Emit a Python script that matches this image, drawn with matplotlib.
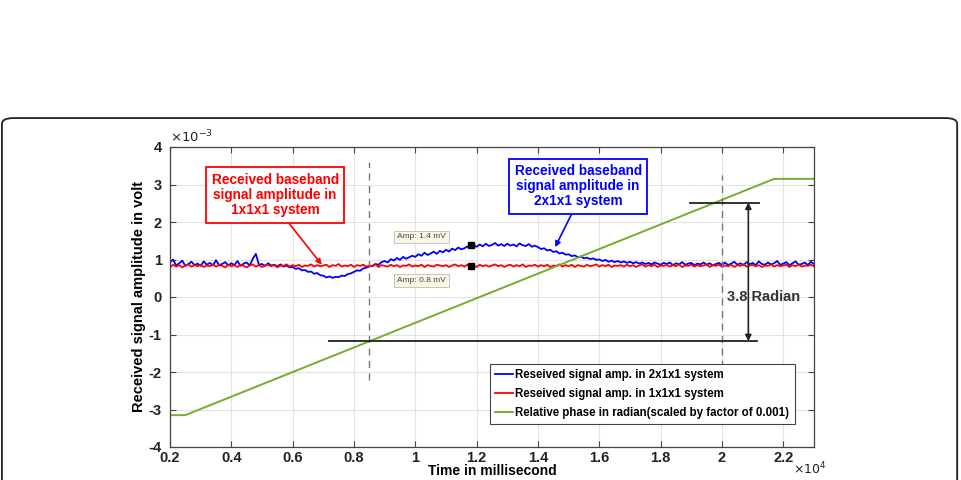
import matplotlib.pyplot as plt
import numpy as np
from matplotlib.patches import FancyBboxPatch

plt.rcParams['font.family'] = ['Liberation Sans', 'DejaVu Sans']
plt.rcParams['axes.unicode_minus'] = False

# sample times (x 10^4 ms), one every 0.01
t = np.round(np.arange(0.20, 2.3001, 0.01), 2)

# amplitude in 2x1x1 system (x 10^-3 V)
amp_2x1x1 = [0.92, 1.00, 0.84, 0.90, 0.97, 0.83, 0.88, 0.94, 0.85, 0.89,
             0.83, 0.95, 0.86, 0.91, 0.84, 0.98, 0.85, 0.88, 0.93, 0.84,
             0.90, 0.85, 0.96, 0.83, 0.89, 0.92, 0.84, 1.02, 1.15, 0.86,
             0.88, 0.83, 0.90, 0.84, 0.86, 0.82, 0.87, 0.81, 0.84, 0.79,
             0.80, 0.75, 0.77, 0.71, 0.72, 0.67, 0.68, 0.62, 0.64, 0.58,
             0.57, 0.52, 0.55, 0.51, 0.54, 0.53, 0.57, 0.56, 0.61, 0.63,
             0.67, 0.71, 0.70, 0.76, 0.78, 0.82, 0.83, 0.88, 0.86, 0.93,
             0.96, 0.92, 1.01, 0.97, 1.04, 0.99, 1.07, 1.02, 1.06, 1.10,
             1.07, 1.14, 1.10, 1.18, 1.12, 1.16, 1.21, 1.15, 1.23, 1.19,
             1.26, 1.21, 1.29, 1.25, 1.32, 1.27, 1.30, 1.35, 1.31, 1.38,
             1.34, 1.40, 1.35, 1.42, 1.36, 1.39, 1.44, 1.37, 1.41, 1.36,
             1.42, 1.37, 1.40, 1.35, 1.43, 1.38, 1.36, 1.41, 1.34, 1.37,
             1.33, 1.28, 1.30, 1.24, 1.26, 1.20, 1.22, 1.16, 1.18, 1.13,
             1.14, 1.09, 1.11, 1.06, 1.08, 1.03, 1.05, 1.01, 1.03, 0.99,
             1.00, 0.96, 0.99, 0.94, 0.97, 0.93, 0.96, 0.92, 0.95, 0.91,
             0.94, 0.90, 0.93, 0.89, 0.92, 0.88, 0.91, 0.87, 0.92, 0.89,
             0.86, 0.91, 0.88, 0.92, 0.85, 0.90, 0.87, 0.93, 0.86, 0.89,
             0.91, 0.85, 0.89, 0.87, 0.92, 0.86, 0.90, 0.84, 0.88, 0.91,
             0.86, 0.92, 0.85, 0.89, 0.94, 0.86, 0.90, 0.85, 0.93, 0.87,
             0.91, 0.85, 0.95, 0.88, 0.86, 0.92, 0.87, 0.90, 0.96, 0.86,
             0.89, 0.93, 0.85, 0.90, 0.95, 0.86, 0.88, 0.92, 0.85, 0.94,
             0.88]

# amplitude in 1x1x1 system (x 10^-3 V)
amp_1x1x1 = [0.80, 0.86, 0.81, 0.85, 0.79, 0.84, 0.87, 0.81, 0.85, 0.82,
             0.86, 0.80, 0.84, 0.82, 0.87, 0.81, 0.85, 0.83, 0.79, 0.86,
             0.82, 0.85, 0.80, 0.86, 0.83, 0.79, 0.84, 0.87, 0.81, 0.85,
             0.80, 0.84, 0.86, 0.82, 0.85, 0.79, 0.84, 0.83, 0.87, 0.81,
             0.85, 0.82, 0.86, 0.80, 0.84, 0.83, 0.87, 0.81, 0.85, 0.82,
             0.84, 0.86, 0.80, 0.85, 0.83, 0.88, 0.81, 0.84, 0.82, 0.86,
             0.80, 0.85, 0.83, 0.86, 0.81, 0.84, 0.82, 0.87, 0.80, 0.85,
             0.83, 0.81, 0.86, 0.82, 0.85, 0.80, 0.84, 0.83, 0.87, 0.81,
             0.84, 0.82, 0.86, 0.80, 0.85, 0.83, 0.81, 0.86, 0.84, 0.82,
             0.85, 0.80, 0.84, 0.87, 0.82, 0.85, 0.81, 0.86, 0.83, 0.84,
             0.80, 0.86, 0.82, 0.85, 0.81, 0.84, 0.87, 0.82, 0.85, 0.80,
             0.84, 0.86, 0.81, 0.85, 0.82, 0.87, 0.80, 0.84, 0.83, 0.86,
             0.81, 0.85, 0.82, 0.86, 0.80, 0.84, 0.83, 0.87, 0.81, 0.85,
             0.82, 0.86, 0.80, 0.85, 0.83, 0.81, 0.86, 0.82, 0.84, 0.87,
             0.81, 0.85, 0.82, 0.86, 0.80, 0.84, 0.83, 0.85, 0.81, 0.86,
             0.82, 0.85, 0.80, 0.84, 0.87, 0.81, 0.85, 0.82, 0.86, 0.80,
             0.84, 0.83, 0.86, 0.81, 0.85, 0.82, 0.87, 0.80, 0.84, 0.83,
             0.86, 0.81, 0.85, 0.82, 0.84, 0.87, 0.80, 0.85, 0.83, 0.86,
             0.81, 0.84, 0.82, 0.86, 0.80, 0.85, 0.83, 0.87, 0.81, 0.84,
             0.86, 0.82, 0.85, 0.80, 0.84, 0.83, 0.87, 0.81, 0.85, 0.82,
             0.84, 0.86, 0.80, 0.85, 0.82, 0.87, 0.81, 0.84, 0.83, 0.86,
             0.82]

# relative phase (radian, scaled by 0.001)
phase_t = [0.20, 0.25, 2.17, 2.30]
phase_val = [-3.15, -3.15, 3.15, 3.15]

# data tips
tip_t = 1.18
tip_hi, tip_lo = 1.38, 0.82

fig = plt.figure(figsize=(9.61, 4.8), dpi=100)
fig.patches.append(FancyBboxPatch((0.002, -0.05), 0.994, 0.804,
                                  boxstyle='round,pad=0,rounding_size=0.012',
                                  transform=fig.transFigure, fill=False,
                                  edgecolor='#222222', linewidth=1.3))
ax = fig.add_axes([0.1769, 0.06875, 0.6701, 0.625])

ax.plot(t, amp_2x1x1, color='#0000FF', lw=1.3, label='Reseived signal amp. in 2x1x1 system')
ax.plot(t, amp_1x1x1, color='#FF0000', lw=1.3, label='Reseived signal amp. in 1x1x1 system')
ax.plot(phase_t, phase_val, color='#77AC30', lw=1.4,
        label='Relative phase in radian(scaled by factor of 0.001)')

# data tip markers
ax.plot([tip_t, tip_t], [tip_hi, tip_lo], 's', color='black', ms=4, ls='none')
tip_box = dict(boxstyle='square,pad=0.35', fc='#FAF7E6', ec='#BBBBBB', lw=0.6)
ax.text(0.94, 1.6, 'Amp: 1.4 mV', fontsize=6, color='#444444', va='center', bbox=tip_box)
ax.text(0.94, 0.45, 'Amp: 0.8 mV', fontsize=6, color='#444444', va='center', bbox=tip_box)

# dashed markers and the phase difference
ax.plot([0.85, 0.85], [-2.2, 3.6], ls=(0, (5, 4)), color='#777777', lw=1)
ax.plot([2.0, 2.0], [-2.2, 3.25], ls=(0, (5, 4)), color='#777777', lw=1)
ax.plot([0.72, 2.115], [-1.18, -1.18], color='#222222', lw=1.3)
ax.plot([1.895, 2.12], [2.52, 2.52], color='#222222', lw=1.3)
ax.annotate('', xy=(2.086, 2.52), xytext=(2.086, -1.18),
            arrowprops=dict(arrowstyle='<|-|>', color='#222222', lw=1.2,
                            mutation_scale=9, shrinkA=0, shrinkB=0))
ax.text(2.135, 0.0, '3.8 Radian', fontsize=10.5, fontweight='bold', color='#333333',
        ha='center', va='center')

# callout boxes
ax.annotate('Received baseband\nsignal amplitude in\n1x1x1 system', xy=(0.695, 0.86),
            xytext=(0.543, 2.72), ha='center', va='center', fontsize=9.8,
            fontweight='bold', color='#FF0000', linespacing=1.1,
            bbox=dict(boxstyle='square,pad=0.4', fc='white', ec='#FF0000', lw=1.3),
            arrowprops=dict(arrowstyle='-|>', color='#FF0000', lw=1.2, mutation_scale=8,
                            relpos=(0.57, 0), shrinkA=0, shrinkB=0))
ax.annotate('Received baseband\nsignal amplitude in\n2x1x1 system', xy=(1.456, 1.33),
            xytext=(1.531, 2.95), ha='center', va='center', fontsize=9.8,
            fontweight='bold', color='#0000FF', linespacing=1.1,
            bbox=dict(boxstyle='square,pad=0.4', fc='white', ec='#0000FF', lw=1.3),
            arrowprops=dict(arrowstyle='-|>', color='#0000FF', lw=1.2, mutation_scale=8,
                            relpos=(0.47, 0), shrinkA=0, shrinkB=0))

ax.set_xlim(0.2, 2.3)
ax.set_ylim(-4, 4)
ax.set_xticks([0.2, 0.4, 0.6, 0.8, 1, 1.2, 1.4, 1.6, 1.8, 2, 2.2])
ax.set_xticklabels(['0.2', '0.4', '0.6', '0.8', '1', '1.2', '1.4', '1.6', '1.8', '2', '2.2'])
ax.set_yticks(range(-4, 5))
ax.grid(True, color='#E3E3E3', lw=0.8)
ax.set_axisbelow(True)
ax.tick_params(direction='in', top=True, right=True, length=4, color='#444444',
               labelsize=10.5, labelcolor='#222222')
ax.tick_params(axis='x', pad=3)
ax.tick_params(axis='y', pad=6)
for lab in ax.get_xticklabels() + ax.get_yticklabels():
    lab.set_fontweight('bold')
for s in ax.spines.values():
    s.set_color('#444444')
    s.set_linewidth(0.9)

ax.set_ylabel('Received signal amplitude in volt', fontsize=10.5, fontweight='bold', labelpad=2)
ax.set_xlabel('Time in millisecond', fontsize=10, fontweight='bold')
ax.xaxis.set_label_coords(0.5, -0.058)
ax.text(0.0, 1.005, r'$\times10^{-3}$', transform=ax.transAxes, fontsize=9.5,
        color='#222222', va='bottom', ha='left')
ax.text(1.02, -0.1, r'$\times10^{4}$', transform=ax.transAxes, fontsize=9,
        color='#222222', va='bottom', ha='right')

leg = ax.legend(loc='lower right', bbox_to_anchor=(0.970, 0.077), borderaxespad=0,
                fancybox=False, edgecolor='#444444', handlelength=1.6, handletextpad=0.2,
                borderpad=0.45, labelspacing=0.6, prop={'size': 8.3, 'weight': 'bold'},
                framealpha=1)
leg.get_frame().set_linewidth(0.8)

plt.savefig('out.png', dpi=100)
